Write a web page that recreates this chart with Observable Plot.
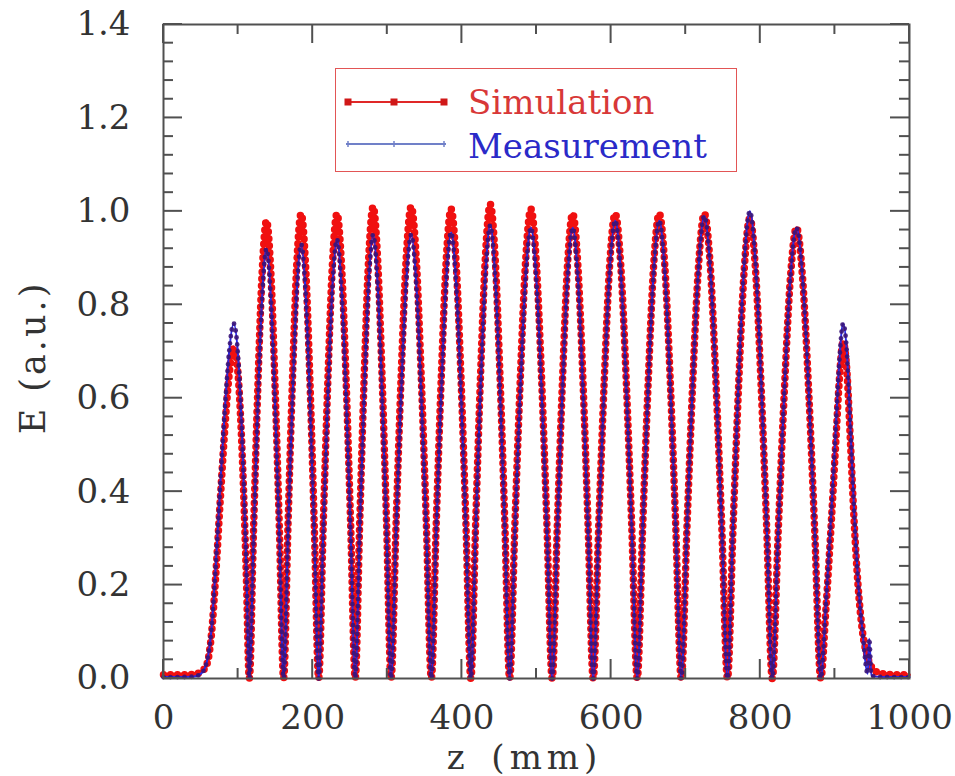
<!DOCTYPE html>
<html><head><meta charset="utf-8">
<script src="https://cdn.jsdelivr.net/npm/d3@7"></script>
<script src="https://cdn.jsdelivr.net/npm/@observablehq/plot@0.6"></script>
<style>
body{margin:0;background:#fff;}
#wrap{position:relative;width:955px;height:776px;background:#fff;}
#legend{position:absolute;left:335px;top:68px;width:402px;height:104px;border:1.5px solid #e25555;box-sizing:border-box;background:#fff;}
#legend svg{position:absolute;left:0;top:0;}
</style></head>
<body><div id="wrap"><div id="legend"></div></div>
<script>
// ---- data ----
const z = [
  0, 20, 40, 50, 58, 64, 70, 76, 82, 88, 94, 100, 106, 111, 115,
  120.8, 126.5, 132.3, 138, 143.8, 149.5, 155.3, 161,
  166.9, 172.8, 178.6, 184.5, 190.4, 196.3, 202.1, 208,
  214.1, 220.3, 226.4, 232.5, 238.6, 244.8, 250.9, 257,
  263, 269, 275, 281, 287, 293, 299, 305,
  311.8, 318.5, 325.3, 332, 338.8, 345.5, 352.3, 359,
  365.6, 372.3, 378.9, 385.5, 392.1, 398.8, 405.4, 412,
  418.5, 425, 431.5, 438, 444.5, 451, 457.5, 464,
  471.1, 478.3, 485.4, 492.5, 499.6, 506.8, 513.9, 521,
  527.9, 534.8, 541.6, 548.5, 555.4, 562.3, 569.1, 576,
  583.4, 590.8, 598.1, 605.5, 612.9, 620.3, 627.6, 635,
  642.4, 649.8, 657.1, 664.5, 671.9, 679.3, 686.6, 694,
  701.8, 709.5, 717.3, 725, 732.8, 740.5, 748.3, 756,
  763.5, 771, 778.5, 786, 793.5, 801, 808.5, 816,
  824.1, 832.3, 840.4, 848.5, 856.6, 864.8, 872.9, 881,
  888, 895, 901, 906, 911, 916, 921, 926, 931, 937, 944, 946, 949, 955, 965, 980, 1000
];
const simulation = [
  0.008, 0.008, 0.009, 0.014, 0.03, 0.09, 0.22, 0.38, 0.53, 0.65, 0.71, 0.65, 0.46, 0.22, 0,
  0.323, 0.627, 0.872, 0.98, 0.872, 0.627, 0.323, 0,
  0.328, 0.637, 0.886, 0.995, 0.886, 0.637, 0.328, 0,
  0.328, 0.637, 0.886, 0.995, 0.886, 0.637, 0.328, 0,
  0.333, 0.646, 0.899, 1.01, 0.899, 0.646, 0.333, 0,
  0.333, 0.646, 0.899, 1.01, 0.899, 0.646, 0.333, 0,
  0.332, 0.643, 0.894, 1.005, 0.894, 0.643, 0.332, 0,
  0.335, 0.65, 0.903, 1.015, 0.903, 0.65, 0.335, 0,
  0.332, 0.643, 0.894, 1.005, 0.894, 0.643, 0.332, 0,
  0.328, 0.637, 0.886, 0.995, 0.886, 0.637, 0.328, 0,
  0.328, 0.637, 0.886, 0.995, 0.886, 0.637, 0.328, 0,
  0.328, 0.637, 0.886, 0.995, 0.886, 0.637, 0.328, 0,
  0.328, 0.637, 0.886, 0.995, 0.886, 0.637, 0.328, 0,
  0.325, 0.63, 0.877, 0.985, 0.877, 0.63, 0.325, 0,
  0.318, 0.618, 0.859, 0.965, 0.859, 0.618, 0.318, 0,
  0.15, 0.33, 0.5, 0.64, 0.72, 0.66, 0.5, 0.33, 0.2, 0.1, 0.045, 0.035, 0.025, 0.015, 0.01, 0.008, 0.008
];
const measurement = [
  0.003, 0.003, 0.004, 0.01, 0.035, 0.1, 0.24, 0.41, 0.57, 0.7, 0.76, 0.69, 0.49, 0.24, 0,
  0.304, 0.589, 0.819, 0.92, 0.819, 0.589, 0.304, 0,
  0.307, 0.595, 0.828, 0.93, 0.828, 0.595, 0.307, 0,
  0.31, 0.602, 0.837, 0.94, 0.837, 0.602, 0.31, 0,
  0.314, 0.608, 0.846, 0.95, 0.846, 0.608, 0.314, 0,
  0.314, 0.608, 0.846, 0.95, 0.846, 0.608, 0.314, 0,
  0.315, 0.611, 0.85, 0.955, 0.85, 0.611, 0.315, 0,
  0.32, 0.621, 0.863, 0.97, 0.863, 0.621, 0.32, 0,
  0.318, 0.618, 0.859, 0.965, 0.859, 0.618, 0.318, 0,
  0.318, 0.618, 0.859, 0.965, 0.859, 0.618, 0.318, 0,
  0.323, 0.627, 0.872, 0.98, 0.872, 0.627, 0.323, 0,
  0.323, 0.627, 0.872, 0.98, 0.872, 0.627, 0.323, 0,
  0.327, 0.634, 0.881, 0.99, 0.881, 0.634, 0.327, 0,
  0.33, 0.64, 0.89, 1.0, 0.89, 0.64, 0.33, 0,
  0.318, 0.618, 0.859, 0.965, 0.859, 0.618, 0.318, 0,
  0.16, 0.35, 0.53, 0.68, 0.76, 0.7, 0.53, 0.35, 0.21, 0.1, 0.01, 0.085, 0.006, 0.004, 0.003, 0.003, 0.003
];
const xMajorTicks = [0, 200, 400, 600, 800, 1000];
const xMinorTicks = [100, 300, 500, 700, 900];
const yMajorTicks = [0, 0.2, 0.4, 0.6, 0.8, 1.0, 1.2, 1.4];
const yMinorTicks = [0.04, 0.08, 0.12, 0.16, 0.24, 0.28, 0.32, 0.36, 0.44, 0.48, 0.52, 0.56,
  0.64, 0.68, 0.72, 0.76, 0.84, 0.88, 0.92, 0.96, 1.04, 1.08, 1.12, 1.16, 1.24, 1.28, 1.32, 1.36];
const seriesNames = ["Simulation", "Measurement"];
const xLabel = "z (mm)";
const yLabel = "E (a.u.)";

// ---- build ----
const simData = z.map((v, i) => ({z: v, E: simulation[i]}));
const measData = z.map((v, i) => ({z: v, E: measurement[i]}));
const FONT = "DejaVu Serif";
const TXT = "#333";

const plot = Plot.plot({
  width: 955, height: 776,
  marginLeft: 163, marginRight: 46, marginTop: 24, marginBottom: 98,
  style: {fontFamily: FONT, fontSize: "34px", color: TXT, background: "#fff", overflow: "visible"},
  x: {domain: [0, 1000]},
  y: {domain: [0, 1.4]},
  marks: [
    Plot.lineY(simData, {x: "z", y: "E", stroke: "#ff2a2a", strokeWidth: 3, curve: "monotone-x"}),
    Plot.lineY(simData, {x: "z", y: "E", stroke: "#f01010", strokeWidth: 7.5, strokeDasharray: "0 7", strokeLinecap: "round", curve: "monotone-x"}),
    Plot.lineY(measData, {x: "z", y: "E", stroke: "#2a2ae8", strokeWidth: 2, curve: "monotone-x"}),
    Plot.lineY(measData, {x: "z", y: "E", stroke: "#3a1478", strokeWidth: 4.8, strokeOpacity: 0.9, strokeDasharray: "0 7", strokeLinecap: "round", curve: "monotone-x"}),
    Plot.frame({stroke: "#505050", strokeWidth: 2}),
    Plot.axisX({anchor: "bottom", ticks: xMajorTicks, tickSize: 0, tickPadding: 26, tickFormat: d => String(d), label: null, fontSize: 34, fill: TXT}),
    Plot.axisY({anchor: "left", ticks: yMajorTicks, tickSize: 0, tickPadding: 33, tickFormat: d => d.toFixed(1), label: null, fontSize: 34, fill: TXT}),
    Plot.text([xLabel], {frameAnchor: "bottom", dy: 80, dx: -12, fontSize: 34, fill: TXT, textAnchor: "middle", lineAnchor: "middle"}),
    Plot.text([yLabel], {frameAnchor: "left", rotate: -90, dx: -130, dy: 6, fontSize: 35, fill: TXT, textAnchor: "middle", lineAnchor: "middle"})
  ]
});

document.getElementById("wrap").insertBefore(plot, document.getElementById("legend"));

// letter spacing for axis titles
d3.select(plot).selectAll("text").each(function() {
  const t = this.textContent;
  if (t === xLabel) { this.setAttribute("letter-spacing", "5"); this.setAttribute("word-spacing", "6"); }
  if (t === yLabel) this.setAttribute("letter-spacing", "3");
});

// inward ticks on all four sides, placed through Plot's scales
const sx = plot.scale("x"), sy = plot.scale("y");
const X0 = sx.apply(0), X1 = sx.apply(1000), Y0 = sy.apply(0), Y1 = sy.apply(1.4);
const g = d3.select(plot).append("g").attr("stroke", "#505050").attr("stroke-width", 2);
function xt(v, len) {
  const px = sx.apply(v);
  g.append("line").attr("x1", px).attr("x2", px).attr("y1", Y0).attr("y2", Y0 - len);
  g.append("line").attr("x1", px).attr("x2", px).attr("y1", Y1).attr("y2", Y1 + len);
}
function yt(v, len) {
  const py = sy.apply(v);
  g.append("line").attr("x1", X0).attr("x2", X0 + len).attr("y1", py).attr("y2", py);
  g.append("line").attr("x1", X1).attr("x2", X1 - len).attr("y1", py).attr("y2", py);
}
xMajorTicks.forEach(v => xt(v, 19));
xMinorTicks.forEach(v => xt(v, 10));
yMajorTicks.forEach(v => yt(v, 19));
yMinorTicks.forEach(v => yt(v, 10));

// legend (inside the frame, as in the reference)
const lg = d3.select("#legend").append("svg").attr("width", 400).attr("height", 102)
  .style("font-family", FONT).style("font-size", "34px");
lg.append("line").attr("x1", 10).attr("x2", 110).attr("y1", 33).attr("y2", 33).attr("stroke", "#e02828").attr("stroke-width", 2);
[12, 58, 108].forEach(cx => lg.append("rect").attr("x", cx - 3.5).attr("y", 29.5).attr("width", 7).attr("height", 7).attr("fill", "#d01818"));
lg.append("text").attr("x", 132).attr("y", 45).attr("fill", "#d83838").text(seriesNames[0]);
lg.append("line").attr("x1", 10).attr("x2", 110).attr("y1", 75).attr("y2", 75).attr("stroke", "#7080c8").attr("stroke-width", 2);
[12, 58, 108].forEach(cx => lg.append("line").attr("x1", cx).attr("x2", cx).attr("y1", 72).attr("y2", 78).attr("stroke", "#7080c8").attr("stroke-width", 1.5));
lg.append("text").attr("x", 132).attr("y", 89).attr("fill", "#2a2ac8").text(seriesNames[1]);
</script>
</body></html>
